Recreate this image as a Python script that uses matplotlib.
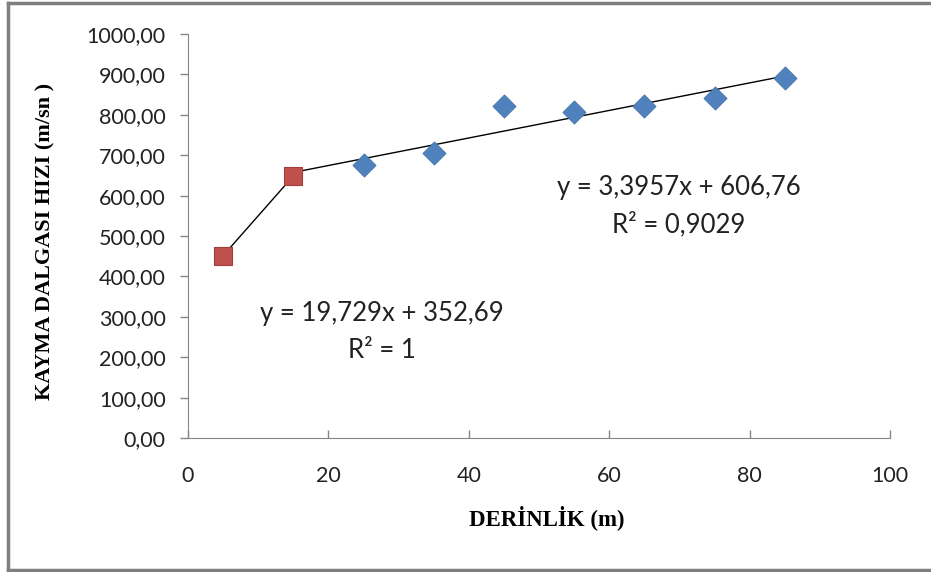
import numpy as np
import matplotlib.pyplot as plt
from matplotlib.lines import Line2D
from matplotlib.ticker import FuncFormatter

# shallow layer (red squares) and deeper layer (blue diamonds)
depth_top = [5, 15]
vs_top = [451.3, 648.6]
depth_deep = [15, 25, 35, 45, 55, 65, 75, 85]
vs_deep = [648.6, 676, 705, 822, 807, 822, 842, 891]

eq_top = "y = 19,729x + 352,69\nR² = 1"
eq_deep = "y = 3,3957x + 606,76\nR² = 0,9029"

tick_font = "Lato"
label_font = "Liberation Serif"

fig = plt.figure(figsize=(9.31, 5.72), dpi=100)
ax = fig.add_axes([188 / 931, 1 - 438 / 572, (890 - 188) / 931, (438 - 34) / 572])

# trendlines from the data
for xs, ys in [(depth_top, vs_top), (depth_deep, vs_deep)]:
    m, b = np.polyfit(xs, ys, 1)
    xx = np.array([min(xs), max(xs)])
    ax.plot(xx, m * xx + b, color='black', lw=1, zorder=2)

ax.scatter(depth_deep[1:], vs_deep[1:], marker='D', s=140, color='#4F81BD',
           edgecolors='#3E6FA8', linewidths=0.5, zorder=3)
ax.scatter(depth_top, vs_top, marker='s', s=185, color='#C0504D',
           edgecolors='#A43E3B', linewidths=0.8, zorder=3)

ax.set_xlim(0, 100)
ax.set_ylim(0, 1000)
ax.set_xticks(range(0, 101, 20))
ax.set_yticks(range(0, 1001, 100))
ax.yaxis.set_major_formatter(FuncFormatter(lambda v, p: f"{v:.2f}".replace('.', ',')))

for s in ['top', 'right']:
    ax.spines[s].set_visible(False)
for s in ['left', 'bottom']:
    ax.spines[s].set_color('#868686')
ax.tick_params(axis='both', color='#868686', length=6, width=1, labelsize=15.5,
               labelcolor='#222222')
ax.tick_params(axis='y', pad=10)
ax.tick_params(axis='x', direction='in', length=6, pad=20)
for lab in ax.get_xticklabels() + ax.get_yticklabels():
    lab.set_fontfamily(tick_font)

fig.text(382 / 931, 1 - 332 / 572, eq_top, ha='center', va='center', fontsize=18.5,
         family=tick_font, color='#222222', linespacing=1.55)
fig.text(679 / 931, 1 - 206 / 572, eq_deep, ha='center', va='center', fontsize=18.5,
         family=tick_font, color='#222222', linespacing=1.55)

fig.text(45 / 931, 1 - 241 / 572, "KAYMA DALGASI HIZI (m/sn )", rotation=90,
         ha='center', va='center', fontsize=16, fontweight='bold', family=label_font)
fig.text(547 / 931, 1 - 518 / 572, "DERİNLİK (m)", ha='center', va='center',
         fontsize=16.5, fontweight='bold', family=label_font)

# outer chart frame
frame = dict(color='#7f7f7f', lw=2.5, transform=fig.transFigure)
fig.add_artist(Line2D([8 / 931, 8 / 931], [1 - 3 / 572, 1 - 570 / 572], **frame))
fig.add_artist(Line2D([8 / 931, 1], [1 - 3 / 572, 1 - 3 / 572], **frame))
fig.add_artist(Line2D([8 / 931, 1], [1 - 570 / 572, 1 - 570 / 572], **frame))

fig.savefig("out.png", dpi=100)
